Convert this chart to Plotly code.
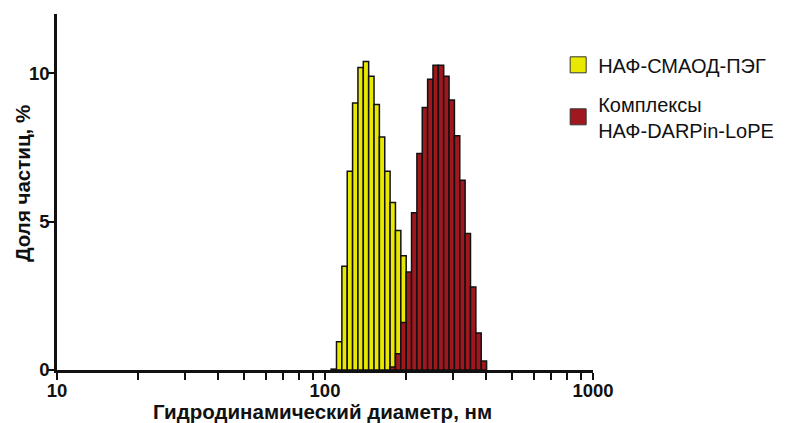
import numpy as np
import plotly.graph_objects as go

# Bin centres (hydrodynamic diameter, nm) and particle fraction (%)
yellow_diam = [107.87, 112.95, 118.28, 123.85, 129.69, 135.80, 142.20, 148.90,
               155.92, 163.27, 170.97, 179.03, 187.47, 196.30]
yellow_pct = [0.03, 0.95, 3.5, 6.7, 9.0, 10.2, 10.4, 9.9, 8.95, 7.85, 6.7,
              5.65, 4.7, 3.85]

red_diam = [179.03, 187.47, 196.30, 205.55, 215.24, 225.38, 236.00, 247.12,
            258.77, 270.97, 283.74, 297.11, 311.11, 325.77, 341.12, 357.20,
            374.03, 391.66]
red_pct = [0.1, 0.55, 1.6, 3.3, 5.3, 7.3, 8.85, 9.8, 10.27, 10.27, 9.9, 9.1,
           7.9, 6.4, 4.6, 2.8, 1.25, 0.3]

series_names = ["НАФ-СМАОД-ПЭГ", "Комплексы<br>НАФ-DARPin-LoPE"]
series_colors = ["#e8e800", "#a0181e"]

x_major = [10, 100, 1000]
x_ticks = [10, 20, 30, 40, 50, 60, 70, 80, 90, 100, 200, 300, 400, 500, 600,
           700, 800, 900, 1000]
y_ticks = [0, 5, 10]

x_title = "Гидродинамический диаметр, нм"
y_title = "Доля частиц, %"

FONT = "Liberation Sans, Arial, sans-serif"
BIN_W = 0.02  # bin width in decades

fig = go.Figure()
for diam, pct, color in [(yellow_diam, yellow_pct, series_colors[0]),
                         (red_diam, red_pct, series_colors[1])]:
    fig.add_trace(go.Bar(
        x=np.log10(diam), y=pct, width=BIN_W,
        marker=dict(color=color, line=dict(color="#111111", width=1.5)),
        showlegend=False,
    ))

# legend entries
for i, (name, color) in enumerate(zip(series_names, series_colors)):
    fig.add_trace(go.Scatter(
        x=[None], y=[None], mode="markers", name=name, legendgroup=f"g{i}",
        marker=dict(symbol="square", size=16, color=color,
                    line=dict(color="#333333", width=1)),
    ))

fig.update_layout(
    width=792, height=423,
    margin=dict(l=57, r=199, t=14, b=53),
    paper_bgcolor="white", plot_bgcolor="white",
    barmode="overlay",
    font=dict(family=FONT, color="#111111"),
    legend=dict(x=0.935, y=0.912, xanchor="left", yanchor="top",
                font=dict(size=20, family=FONT, color="#111111"),
                itemsizing="trace", tracegroupgap=10, bgcolor="rgba(0,0,0,0)"),
    xaxis=dict(
        type="linear", range=[1, 3], automargin=False,
        tickmode="array", tickvals=np.log10(x_ticks).tolist(),
        ticktext=[str(v) if v in x_major else "" for v in x_ticks],
        ticks="outside", ticklen=7, tickwidth=2, tickcolor="#111111",
        ticklabelstandoff=-5,
        showline=True, linecolor="#111111", linewidth=2.5,
        showgrid=False, zeroline=False,
        tickfont=dict(size=18.5, family=FONT, weight="bold", color="#111111"),
    ),
    yaxis=dict(
        range=[0, 12], automargin=False,
        tickmode="array", tickvals=y_ticks, ticktext=[str(v) for v in y_ticks],
        ticks="outside", ticklen=6, tickwidth=2, tickcolor="#111111",
        ticklabelstandoff=-5,
        showline=True, linecolor="#111111", linewidth=2.5,
        showgrid=False, zeroline=False,
        tickfont=dict(size=18.5, family=FONT, weight="bold", color="#111111"),
    ),
    annotations=[
        dict(text=x_title, xref="paper", yref="paper", x=0.5, y=0,
             xanchor="center", yanchor="middle", yshift=-41, xshift=-3,
             showarrow=False,
             font=dict(size=20.5, family=FONT, weight="bold", color="#111111")),
        dict(text=y_title, xref="paper", yref="paper", x=0, y=0.5,
             xanchor="center", yanchor="middle", xshift=-35, yshift=8,
             textangle=-90, showarrow=False,
             font=dict(size=20.5, family=FONT, weight="bold", color="#111111")),
    ],
)

fig.write_html(
    "out.html",
    config={"displayModeBar": False},
    post_script="document.body.style.margin='0';document.body.style.overflow='hidden';",
)
